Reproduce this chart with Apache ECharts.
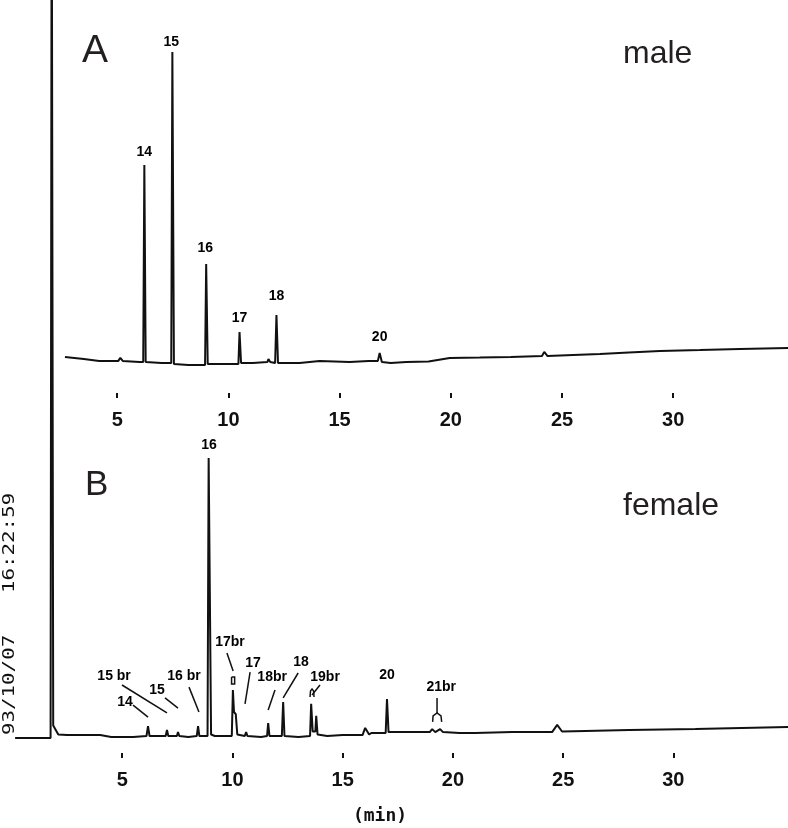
<!DOCTYPE html>
<html>
<head>
<meta charset="utf-8">
<script src="https://cdn.jsdelivr.net/npm/echarts@6/dist/echarts.min.js"></script>
<style>
html,body{margin:0;padding:0;background:#fff;}
#chart{width:788px;height:828px;}
</style>
</head>
<body>
<div id="chart"></div>
<script>
// ---- data (time in min, detector response in arbitrary units) ----
const xTicks = [5, 10, 15, 20, 25, 30];

// Panel A (male) trace
const traceA = [
  [2.65, 1.0], [3.5, 0.3], [4.19, -0.3], [5.05, -0.3], [5.14, 0.7], [5.25, -0.3],
  [6.0, -0.7], [6.17, -0.7], [6.22, 65], [6.28, -0.7], [7.0, -1.0], [7.43, -1.0],
  [7.48, 102.7], [7.55, -1.3], [8.2, -1.7], [8.7, -1.7], [8.95, -1.7], [9.0, 32],
  [9.07, -1.3], [10.0, -1.3], [10.45, -1.3], [10.5, 9.3], [10.57, -1.0], [11.1, -1.0],
  [11.75, -0.7], [11.8, 0.3], [11.88, -0.7], [12.1, -1.0], [12.16, 15], [12.23, -1.0],
  [13.2, -1.0], [14.1, -0.3], [15.45, -0.7], [16.3, -0.3], [16.72, -0.3], [16.8, 2.3],
  [16.9, -0.7], [17.3, -1.0], [18.0, -0.7], [19.0, -0.5], [19.95, 0.7], [21.3, 0.8],
  [22.7, 1.0], [24.1, 1.3], [24.2, 2.7], [24.35, 1.3], [25.5, 1.7], [26.7, 2.0],
  [28.0, 2.5], [29.4, 3.0], [31.2, 3.3], [33.0, 3.7], [35.16, 4.0]
];

// Panel B (female) trace; solvent peak runs off scale
const traceB = [
  [0.14, -0.7], [1.0, -0.7], [1.75, -0.7], [1.8, 300], [1.87, 3.5], [1.95, 3.5],
  [2.1, 0.5], [2.5, 0.3], [4.0, 0.3], [4.5, -0.3], [5.5, -0.3], [6.1, 0],
  [6.17, 3.3], [6.24, 0], [6.97, 0], [7.03, 2], [7.09, 0], [7.48, 0], [7.53, 1.3],
  [7.59, 0], [8.0, -0.3], [8.38, 0], [8.44, 3.3], [8.5, 0], [8.87, 0], [8.92, 92.7],
  [8.97, 92.7], [9.03, 0.5], [9.2, 0], [9.97, 0], [10.02, 15.3], [10.07, 8],
  [10.15, 7.3], [10.22, 0.5], [10.3, 0], [10.56, 0], [10.62, 1.3], [10.68, 0],
  [11.3, -0.3], [11.57, 0], [11.62, 4.3], [11.68, 0], [12.24, 0], [12.3, 11.3],
  [12.36, 0], [13.0, -0.3], [13.52, 0], [13.57, 10.7], [13.64, 1.5], [13.76, 1.5],
  [13.8, 6.7], [13.86, 0.5], [14.3, 0], [15.0, 0.3], [15.9, 0.3], [16.02, 2.7],
  [16.2, 0.5], [16.3, 1.0], [16.95, 1.0], [17.01, 12.3], [17.08, 1.3], [18.0, 1.3],
  [18.95, 1.3], [19.06, 2.3], [19.2, 1.3], [19.42, 2.3], [19.55, 1.3], [20.3, 1.0],
  [21.0, 1.0], [22.7, 1.3], [24.5, 1.3], [24.73, 3.7], [24.95, 1.5], [26.0, 1.7],
  [28.0, 2.0], [31.0, 2.3], [35.2, 3.0]
];

// peak labels: [text, time, response]
const peakLabelsA = [
  ['14', 6.22, 69.3], ['15', 7.43, 106], ['16', 8.96, 37.3],
  ['17', 10.5, 14], ['18', 12.16, 21.3], ['20', 16.8, 7.7]
];
const peakLabelsB = [
  ['16', 8.94, 97], ['15 br', 4.63, 20], ['14', 5.13, 11.3], ['15', 6.58, 15.3],
  ['16 br', 7.8, 20], ['17br', 9.89, 31.3], ['17', 10.93, 24.3], ['18br', 11.8, 19.7],
  ['18', 13.11, 24.7], ['19br', 14.2, 19.7], ['20', 17.01, 20.3], ['21br', 19.47, 16.3]
];

// leader lines for panel B labels, in (time, response)
const leadersB = [
  [[4.99, 17], [7.03, 7.7]],
  [[5.49, 10.3], [6.17, 6.3]],
  [[6.94, 12.7], [7.53, 9.3]],
  [[8.03, 16.3], [8.48, 8]],
  [[9.75, 27.7], [10.03, 21.7]],
  [[9.96, 19.7], [10.1, 19.7], [10.1, 17.3], [9.96, 17.3], [9.96, 19.7]],
  [[10.8, 21.3], [10.57, 10.7]],
  [[11.93, 15.3], [11.62, 8.7]],
  [[12.98, 21], [12.3, 12.7]],
  [[13.97, 17], [13.61, 13.7]],
  [[13.52, 13], [13.54, 15], [13.61, 15.7], [13.68, 15], [13.7, 13]],
  [[19.28, 12.7], [19.28, 7.7]],
  [[19.08, 4.7], [19.1, 6.7], [19.28, 7.7], [19.46, 6.7], [19.49, 4.7]]
];

// ---- chart ----
const ink = '#111111';
const chart = echarts.init(document.getElementById('chart'), null, {renderer: 'canvas'});

function xAxisDef(gridIndex, max) {
  return {
    type: 'value', gridIndex: gridIndex, min: 0, max: max, position: 'bottom',
    axisLine: {show: false, onZero: false},
    splitLine: {show: false},
    axisTick: {show: true, inside: true, length: 5, customValues: xTicks,
      lineStyle: {color: ink, width: 2}},
    axisLabel: {show: true, customValues: xTicks, margin: 12,
      fontFamily: 'Liberation Sans', fontWeight: 'bold', fontSize: 20, color: ink}
  };
}

function labelSeries(xi, list, size) {
  return {
    type: 'scatter', xAxisIndex: xi, yAxisIndex: xi,
    data: list.map(d => [d[1], d[2], d[0]]),
    symbolSize: 1,
    itemStyle: {color: 'rgba(0,0,0,0)'},
    silent: true,
    label: {show: true, position: 'inside', formatter: p => p.data[2],
      fontFamily: 'Liberation Sans', fontWeight: 'bold', fontSize: size, color: '#000',
      opacity: 1, textBorderWidth: 0},
    z: 5
  };
}

const option = {
  animation: false,
  backgroundColor: '#ffffff',
  grid: [
    {left: 6, right: 0, top: 0, height: 398},
    {left: 12, right: 0, top: 430, height: 328}
  ],
  xAxis: [xAxisDef(0, 35.16), xAxisDef(1, 35.2)],
  yAxis: [
    {type: 'value', gridIndex: 0, min: -12.67, max: 120, show: false},
    {type: 'value', gridIndex: 1, min: -7.33, max: 102, show: false}
  ],
  series: [
    {type: 'line', xAxisIndex: 0, yAxisIndex: 0, data: traceA, symbol: 'none',
      lineStyle: {color: ink, width: 2}, z: 3},
    {type: 'line', xAxisIndex: 1, yAxisIndex: 1, data: traceB, symbol: 'none', clip: false,
      lineStyle: {color: ink, width: 2}, z: 3},
    labelSeries(0, peakLabelsA, 14),
    labelSeries(1, peakLabelsB, 14),
    {type: 'lines', coordinateSystem: 'cartesian2d', xAxisIndex: 1, yAxisIndex: 1,
      polyline: true, silent: true,
      data: leadersB.map(c => ({coords: c})),
      lineStyle: {color: ink, width: 1.5, opacity: 1}, z: 4}
  ],
  graphic: [
    {type: 'text', x: 82, y: 51, style: {text: 'A', fontFamily: 'Liberation Sans',
      fontSize: 39, fill: '#231f20', textAlign: 'left', textVerticalAlign: 'middle'}},
    {type: 'text', x: 85, y: 485, style: {text: 'B', fontFamily: 'Liberation Sans',
      fontSize: 35, fill: '#231f20', textAlign: 'left', textVerticalAlign: 'middle'}},
    {type: 'text', x: 623, y: 54, style: {text: 'male', fontFamily: 'Liberation Sans',
      fontSize: 32, fill: '#231f20', textAlign: 'left', textVerticalAlign: 'middle'}},
    {type: 'text', x: 623, y: 506, style: {text: 'female', fontFamily: 'Liberation Sans',
      fontSize: 32, fill: '#231f20', textAlign: 'left', textVerticalAlign: 'middle'}},
    {type: 'text', x: 10, y: 735, rotation: Math.PI / 2, scaleX: 1.3,
      style: {text: '93/10/07', fontFamily: 'DejaVu Sans Mono', fontSize: 16, fill: ink,
        textAlign: 'left', textVerticalAlign: 'middle'}},
    {type: 'text', x: 10, y: 593, rotation: Math.PI / 2, scaleX: 1.3,
      style: {text: '16:22:59', fontFamily: 'DejaVu Sans Mono', fontSize: 16, fill: ink,
        textAlign: 'left', textVerticalAlign: 'middle'}},
    {type: 'text', x: 380, y: 816, style: {text: '(min)', fontFamily: 'DejaVu Sans Mono',
      fontWeight: 'bold', fontSize: 18, fill: ink, textAlign: 'center', textVerticalAlign: 'middle'}}
  ]
};
chart.setOption(option);
</script>
</body>
</html>
